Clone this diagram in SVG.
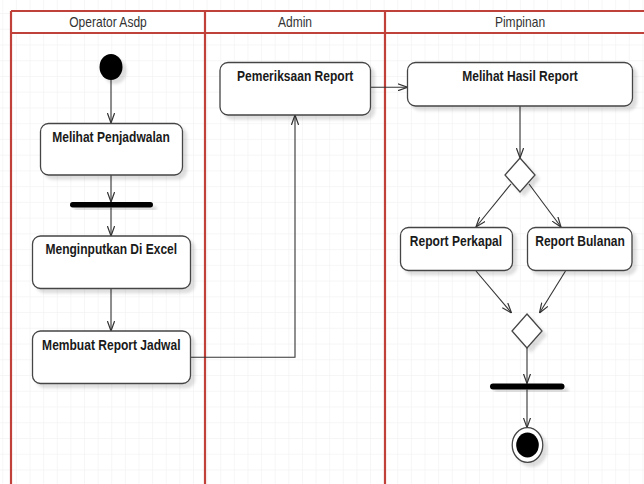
<svg xmlns="http://www.w3.org/2000/svg" width="644" height="484" viewBox="0 0 644 484">
  <defs>
    <pattern id="grid" patternUnits="userSpaceOnUse" x="2.3" y="13" width="13.62" height="15.74">
      <path d="M0,0 H13.62 M0,0 V15.74" fill="none" stroke="#eeeeee" stroke-width="1"/>
    </pattern>
    <filter id="shadow" x="-20%" y="-20%" width="150%" height="160%">
      <feDropShadow dx="4" dy="4" stdDeviation="1.4" flood-color="#000" flood-opacity="0.13"/>
    </filter>
    <marker id="arrow" viewBox="0 0 10 8" refX="10" refY="4" markerWidth="10" markerHeight="8" markerUnits="userSpaceOnUse" orient="auto">
      <path d="M0,0.4 L10,4 L0,7.6" fill="none" stroke="#333" stroke-width="1.2"/>
    </marker>
    <style>
      .lane { stroke: #c0403a; stroke-width: 2.2; fill: none; }
      .head { font-family: "Liberation Sans", Arial, sans-serif; font-size: 14px; fill: #333; text-anchor: middle; }
      .lbl { font-family: "Liberation Sans", Arial, sans-serif; font-size: 14px; font-weight: bold; fill: #1a1a1a; text-anchor: middle; }
      .box { fill: #fff; stroke: #444; stroke-width: 1.3; filter: url(#shadow); }
      .solid { fill: #000; filter: url(#shadow); }
      .edge { fill: none; stroke: #333; stroke-width: 1.1; marker-end: url(#arrow); }
    </style>
  </defs>

  <!-- canvas -->
  <rect width="644" height="484" fill="#fff"/>
  <rect width="644" height="484" fill="url(#grid)"/>

  <!-- swimlanes -->
  <g id="lanes">
    <rect x="11" y="11" width="640" height="22" fill="#fff"/>
    <path class="lane" d="M11,11 H644 M11,33 H644 M11,11 V484 M205,11 V484 M385,11 V484"/>
    <text class="head" transform="translate(108,26.5) scale(0.86,1)">Operator Asdp</text>
    <text class="head" transform="translate(295,26.5) scale(0.86,1)">Admin</text>
    <text class="head" transform="translate(520,26.5) scale(0.86,1)">Pimpinan</text>
  </g>

  <!-- connectors -->
  <g id="connectors">
    <path class="edge" d="M111,80 V123"/>
    <path class="edge" d="M111,175 V202"/>
    <path class="edge" d="M111,207.5 V236"/>
    <path class="edge" d="M111,288.5 V331"/>
    <path class="edge" d="M190.5,357.3 H295 V115"/>
    <path class="edge" d="M370.5,87.3 H407.5"/>
    <path class="edge" d="M520,106 V158"/>
    <path class="edge" d="M511,184 L476,227"/>
    <path class="edge" d="M529,184 L561,227"/>
    <path class="edge" d="M476,271 L511.5,313"/>
    <path class="edge" d="M565.5,271 L539.5,313"/>
    <path class="edge" d="M527,348 V383.5"/>
    <path class="edge" d="M527,389.5 V427.7"/>
  </g>

  <!-- nodes -->
  <g id="start">
    <ellipse class="solid" cx="111" cy="67" rx="11.5" ry="13"/>
  </g>

  <g id="melihat-penjadwalan">
    <rect class="box" x="40.5" y="123.5" width="142" height="51.5" rx="8"/>
    <text class="lbl" transform="translate(111,141.7) scale(0.86,1)">Melihat Penjadwalan</text>
  </g>

  <g id="fork-1">
    <rect class="solid" x="70" y="202" width="83" height="5.5" rx="2.7"/>
  </g>

  <g id="menginputkan-di-excel">
    <rect class="box" x="32.5" y="236" width="158" height="52.5" rx="8"/>
    <text class="lbl" transform="translate(111.3,254) scale(0.86,1)">Menginputkan Di Excel</text>
  </g>

  <g id="membuat-report-jadwal">
    <rect class="box" x="32.5" y="331" width="158" height="52.5" rx="8"/>
    <text class="lbl" transform="translate(111.3,350) scale(0.86,1)">Membuat Report Jadwal</text>
  </g>

  <g id="pemeriksaan-report">
    <rect class="box" x="220" y="62.5" width="150.5" height="52.5" rx="8"/>
    <text class="lbl" transform="translate(295.2,80.5) scale(0.86,1)">Pemeriksaan Report</text>
  </g>

  <g id="melihat-hasil-report">
    <rect class="box" x="407.5" y="62.5" width="225" height="43.5" rx="8"/>
    <text class="lbl" transform="translate(520,80.7) scale(0.86,1)">Melihat Hasil Report</text>
  </g>

  <g id="decision">
    <polygon class="box" points="520,158 535,175 520,192 505,175"/>
  </g>

  <g id="report-perkapal">
    <rect class="box" x="400.5" y="227.5" width="112" height="43" rx="8"/>
    <text class="lbl" transform="translate(456,245.7) scale(0.86,1)">Report Perkapal</text>
  </g>

  <g id="report-bulanan">
    <rect class="box" x="527.5" y="227.5" width="104.5" height="43" rx="8"/>
    <text class="lbl" transform="translate(580,245.7) scale(0.86,1)">Report Bulanan</text>
  </g>

  <g id="merge">
    <polygon class="box" points="527,314 542,331 527,348 512,331"/>
  </g>

  <g id="fork-2">
    <rect class="solid" x="490" y="383.5" width="74.5" height="6" rx="3"/>
  </g>

  <g id="end">
    <ellipse class="box" cx="527.5" cy="445" rx="15.3" ry="17.3"/>
    <ellipse cx="527.5" cy="445" rx="11.3" ry="12.5" fill="#000"/>
  </g>
</svg>
